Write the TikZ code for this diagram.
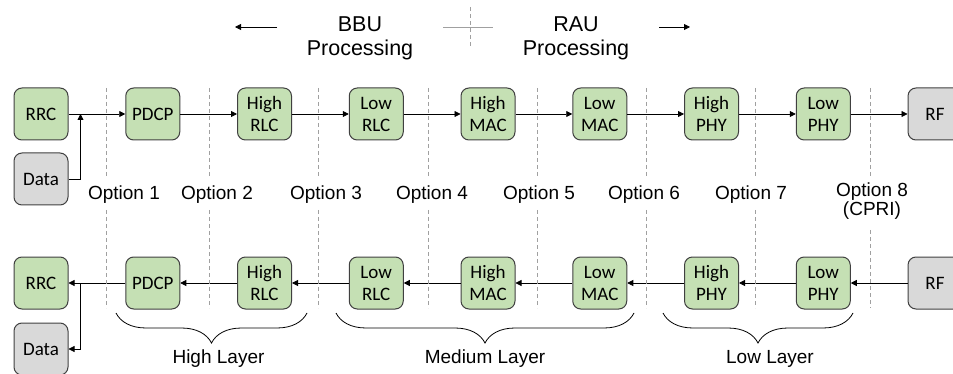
\documentclass[tikz,border=0pt]{standalone}
\usepackage{fontspec}
\setmainfont{Liberation Sans}
\newfontfamily\boxfont{Carlito}
\usetikzlibrary{positioning,arrows.meta,decorations.pathreplacing}

\definecolor{layergreen}{HTML}{C5E0B4}
\definecolor{endgray}{HTML}{D9D9D9}
\definecolor{edgegray}{HTML}{404040}
\definecolor{sepgray}{HTML}{A0A0A0}

\tikzset{
    block/.style={draw=edgegray, line width=1pt, rounded corners=8pt, fill=layergreen,
        minimum width=54pt, minimum height=52pt, inner sep=1pt, align=center,
        font=\boxfont\fontsize{19}{22}\selectfont},
    endblock/.style={block, fill=endgray},
    flow/.style={-{Triangle[length=6pt,width=6pt]}, line width=0.8pt},
    optline/.style={sepgray, line width=0.8pt, dash pattern=on 4pt off 3pt},
    optlabel/.style={align=center, font=\fontsize{19}{19}\selectfont},
    headlabel/.style={align=center, font=\fontsize{21.5}{24}\selectfont},
    layerbrace/.style={decorate, decoration={brace, amplitude=30pt}, line width=0.8pt},
}

\begin{document}
\begin{tikzpicture}[x=1pt, y=-1pt, node distance=56.75pt]
    \useasboundingbox (0,0) rectangle (953,374);

    % header
    \node[headlabel] (bbu) at (360,38) {BBU\\Processing};
    \node[headlabel] (rau) at (576,38) {RAU\\Processing};
    \coordinate (bbufrom) at (277,27);
    \coordinate (bbuto) at (235,27);
    \coordinate (raufrom) at (659,27);
    \coordinate (rauto) at (690,27);
    \coordinate (splitl) at (443,27);
    \coordinate (splitr) at (493,27);
    \coordinate (splitt) at (470,7);
    \coordinate (splitb) at (470,48);
    \draw[flow] (bbufrom) -- (bbuto);
    \draw[flow] (raufrom) -- (rauto);
    \draw[sepgray, line width=0.8pt] (splitl) -- (splitr);
    \draw[optline] (splitt) -- (splitb);

    % downlink chain
    \node[block] (rrc) at (41,114) {RRC};
    \node[endblock, below=12pt of rrc] (data) {Data};
    \node[block, right=of rrc] (pdcp) {PDCP};
    \node[block, right=of pdcp] (hrlc) {High\\RLC};
    \node[block, right=of hrlc] (lrlc) {Low\\RLC};
    \node[block, right=of lrlc] (hmac) {High\\MAC};
    \node[block, right=of hmac] (lmac) {Low\\MAC};
    \node[block, right=of lmac] (hphy) {High\\PHY};
    \node[block, right=of hphy] (lphy) {Low\\PHY};
    \node[endblock, right=of lphy] (rf) {RF};

    \foreach \a/\b in {rrc/pdcp, pdcp/hrlc, hrlc/lrlc, lrlc/hmac, hmac/lmac,
                       lmac/hphy, hphy/lphy, lphy/rf}
        \draw[flow] (\a) -- (\b);
    \draw[flow] (data) -| ([xshift=12pt]rrc.east);

    % uplink chain
    \node[block] (rrcb) at (41,283) {RRC};
    \node[endblock, below=13pt of rrcb] (datab) {Data};
    \node[block, right=of rrcb] (pdcpb) {PDCP};
    \node[block, right=of pdcpb] (hrlcb) {High\\RLC};
    \node[block, right=of hrlcb] (lrlcb) {Low\\RLC};
    \node[block, right=of lrlcb] (hmacb) {High\\MAC};
    \node[block, right=of hmacb] (lmacb) {Low\\MAC};
    \node[block, right=of lmacb] (hphyb) {High\\PHY};
    \node[block, right=of hphyb] (lphyb) {Low\\PHY};
    \node[endblock, right=of lphyb] (rfb) {RF};

    \foreach \a/\b in {rfb/lphyb, lphyb/hphyb, hphyb/lmacb, lmacb/hmacb,
                       hmacb/lrlcb, lrlcb/hrlcb, hrlcb/pdcpb, pdcpb/rrcb}
        \draw[flow] (\a) -- (\b);
    \draw[flow] ([xshift=12pt]rrcb.east) |- (datab);

    % split options
    \foreach \x/\t/\n in {106/124/1, 209/217/2, 318/326/3, 428/432/4,
                          537/539/5, 646/644/6, 755/751/7} {
        \draw[optline] (\x,88) -- (\x,178);
        \draw[optline] (\x,210) -- (\x,308);
        \node[optlabel] (opt\n) at (\t,195) {Option \n};
    }
    \draw[optline] (870,88) -- (870,178);
    \draw[optline] (870,230) -- (870,308);
    \node[optlabel] (opt8) at (872,201) {Option 8\\(CPRI)};

    % layers
    \draw[layerbrace] (307,313) -- (116,313)
        node[optlabel, midway, yshift=-46pt, xshift=7pt] (high) {High Layer};
    \draw[layerbrace] (634,313) -- (336,313)
        node[optlabel, midway, yshift=-46pt] (medium) {Medium Layer};
    \draw[layerbrace] (853,313) -- (663,313)
        node[optlabel, midway, yshift=-46pt, xshift=12pt] (low) {Low Layer};
\end{tikzpicture}
\end{document}
